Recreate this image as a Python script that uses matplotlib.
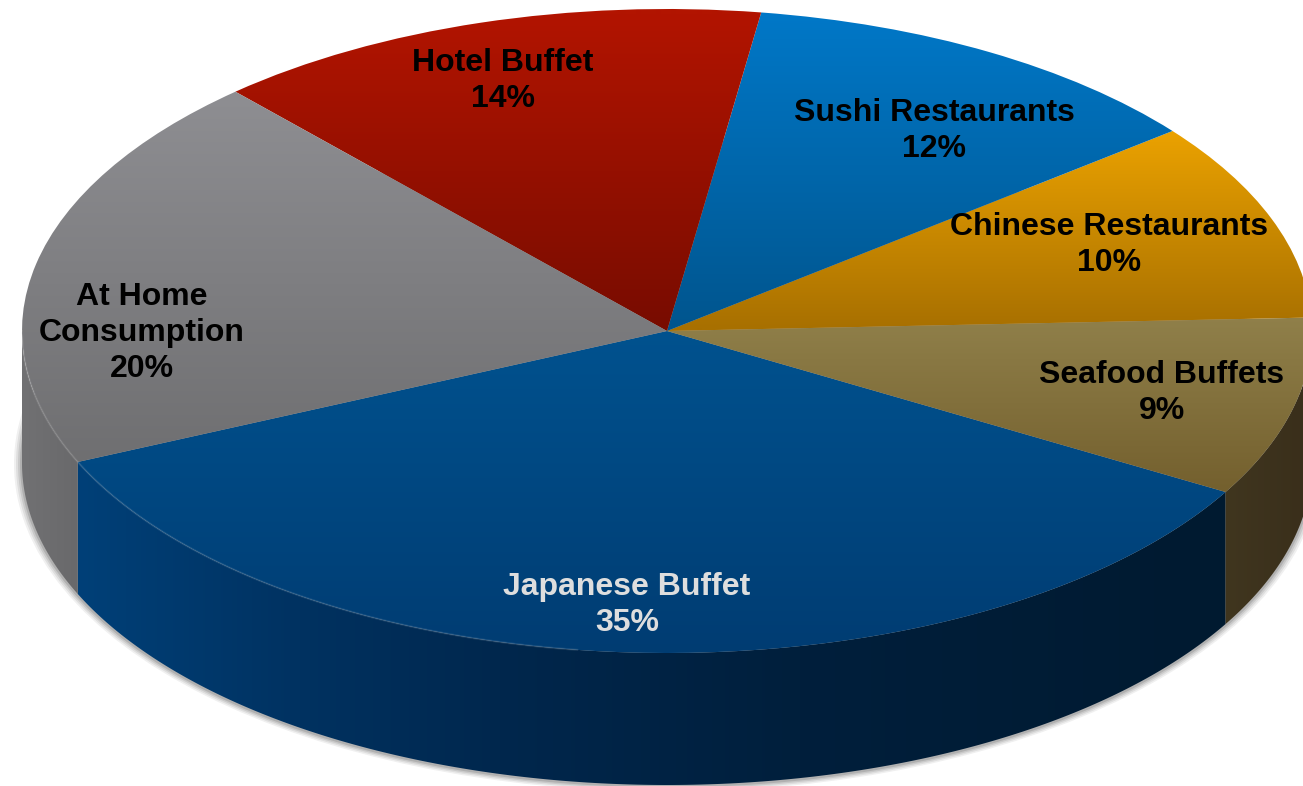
#!/usr/bin/env python3

import numpy as np
from matplotlib import pyplot as plt
from matplotlib.colors import to_rgb
from matplotlib.patches import Ellipse, Polygon, Wedge
from matplotlib.transforms import Affine2D

categories = ['Japanese Buffet', 'Seafood Buffets', 'Chinese Restaurants',
              'Sushi Restaurants', 'Hotel Buffet', 'At Home\nConsumption']
shares = [35, 9, 10, 12, 14, 20]

# pie geometry, in pixels of the 1303x786 picture
W, H = 1303, 786
CX, CY = 667, 331
RX, RY = 645, 322
DEPTH = 132
FIRST_ANGLE = 204

# (y, colour) stops of each slice's top gradient
top_fill = [[(330, '#00528f'), (655, '#003c72')],
            [(316, '#90804a'), (490, '#74602e')],
            [(130, '#eba200'), (328, '#a87000')],
            [(12, '#0078c8'), (328, '#00558e')],
            [(15, '#b21400'), (328, '#780c00')],
            [(95, '#8e8e92'), (462, '#6f6f71')]]
# (x, colour) stops of each slice's wall
wall_fill = [[(78, '#004078'), (300, '#003261'), (500, '#00274d'),
              (800, '#001f3c'), (1225, '#001a30')],
             [(1225, '#40361f'), (1303, '#3a2f1b')],
             None, None, None,
             [(22, '#717173'), (78, '#69696b')]]
label_pos = [(627, 605), (1162, 393), (1109, 245),
             (934, 131), (503, 81), (142, 333)]
label_col = ['#dedede', 'black', 'black', 'black', 'black', 'black']


def gradient(ax, stops, clip, horizontal=False):
    # the colour ramp covers the whole picture, the patch cuts it to shape
    n = W if horizontal else H
    pos = [s[0] for s in stops]
    cols = np.array([to_rgb(s[1]) for s in stops])
    ramp = np.column_stack([np.interp(np.arange(n) + 0.5, pos, cols[:, k])
                            for k in range(3)])
    img = ramp[None, :, :] if horizontal else ramp[:, None, :]
    im = ax.imshow(img, extent=(0, W, H, 0), aspect='auto', origin='upper',
                   interpolation='bilinear', zorder=clip.get_zorder())
    im.set_clip_path(clip)


def rim(angles):
    a = np.radians(angles)
    return CX + RX * np.cos(a), CY - RY * np.sin(a)


def draw_shadow(ax):
    for grow, alpha in zip([8, 6, 4, 2], [0.08, 0.10, 0.13, 0.18]):
        ax.add_patch(Ellipse((CX, CY + DEPTH + 1), 2 * (RX + grow),
                             2 * (RY + grow * 0.7), fc='#404040', ec='none',
                             alpha=alpha, zorder=1))


def draw_wall(ax, t0, t1, stops):
    # only the part of the rim facing the viewer has a wall
    t0 = max(t0, 180)
    t1 = min(t1, 360)
    if t1 <= t0 or stops is None:
        return
    x, y = rim(np.linspace(t0, t1, 200))
    pts = np.vstack([np.column_stack([x, y]),
                     np.column_stack([x, y + DEPTH])[::-1]])
    poly = Polygon(pts, closed=True, fc='none', ec='none', zorder=2)
    ax.add_patch(poly)
    gradient(ax, stops, poly, horizontal=True)


def draw_top(ax, t0, t1, stops):
    trans = Affine2D().scale(RX, -RY).translate(CX, CY) + ax.transData
    w = Wedge((0, 0), 1, t0, t1, fc='none', ec='none', zorder=3,
              transform=trans)
    ax.add_patch(w)
    gradient(ax, stops, w)


def main():
    fig = plt.figure(figsize=(13.03, 7.86), dpi=100)
    ax = fig.add_axes([0, 0, 1, 1])
    draw_shadow(ax)

    angles = FIRST_ANGLE + np.cumsum([0] + shares) * 3.6
    for i in range(len(shares)):
        t0, t1 = angles[i], angles[i + 1]
        if t0 >= 360:
            t0, t1 = t0 - 360, t1 - 360
        draw_wall(ax, t0, t1, wall_fill[i])
        draw_top(ax, t0, t1, top_fill[i])

    # thin highlight along the front rim of the top face
    x, y = rim(np.linspace(180, 262, 120))
    ax.plot(x, y, color='white', alpha=0.1, lw=1.5, zorder=4)

    for name, share, pos, col in zip(categories, shares, label_pos, label_col):
        ax.text(pos[0], pos[1], f'{name}\n{share}%', color=col, ha='center',
                va='center', fontsize=23, fontweight='bold',
                family='Liberation Sans', linespacing=1.25, zorder=5)

    ax.set_xlim(0, W)
    ax.set_ylim(H, 0)
    ax.axis('off')
    fig.savefig('out.png', dpi=100, facecolor='white')


if __name__ == '__main__':
    main()
